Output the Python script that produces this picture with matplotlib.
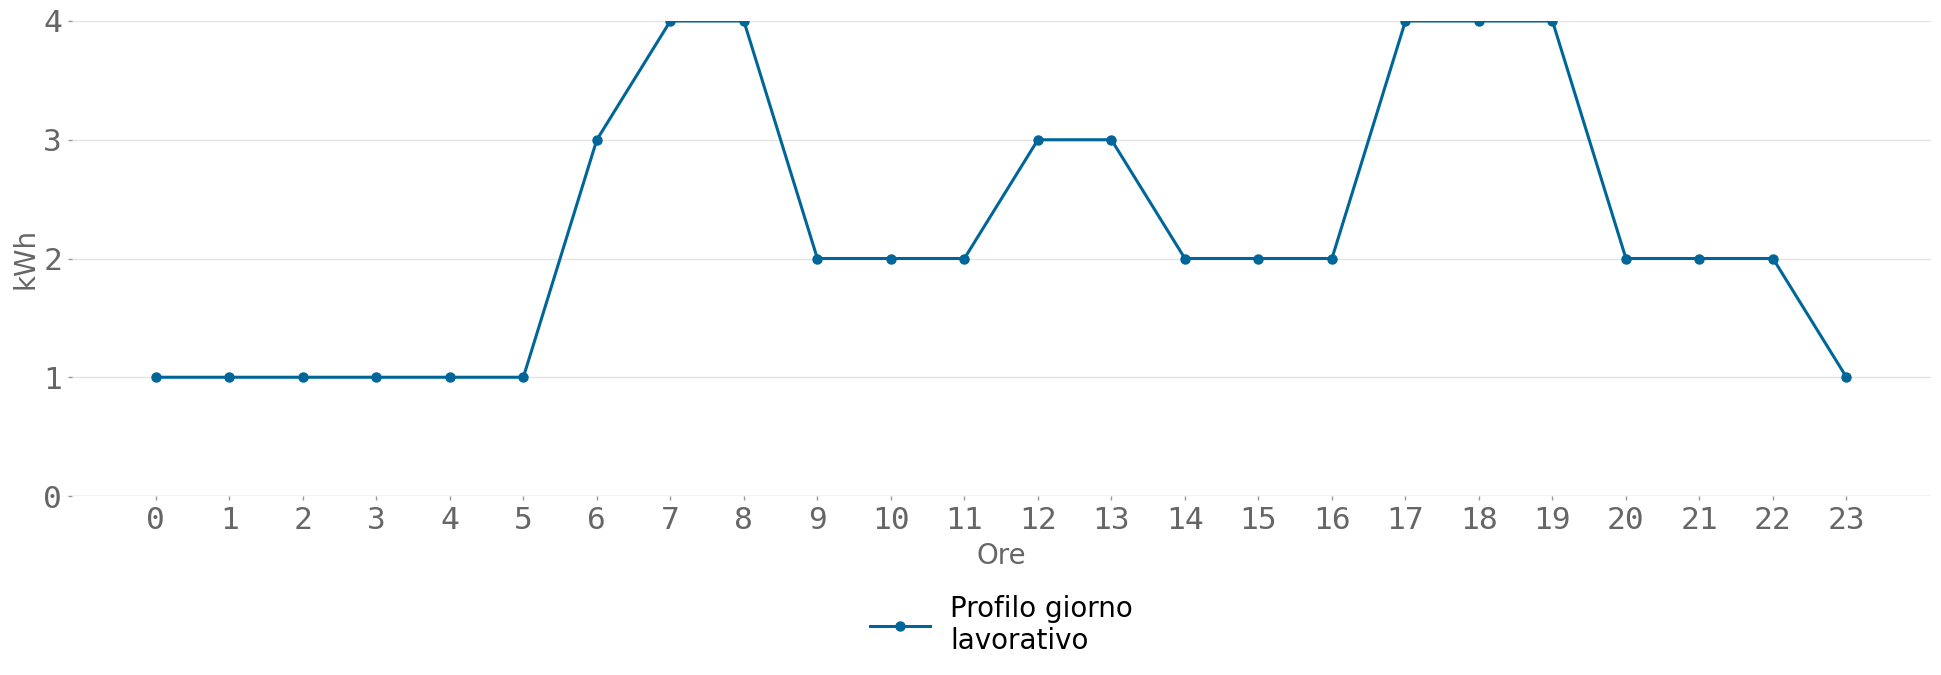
import matplotlib
matplotlib.use("Agg")
import matplotlib.pyplot as plt

hours = list(range(24))
kwh = [1, 1, 1, 1, 1, 1, 3, 4, 4, 2, 2, 2, 3, 3, 2, 2, 2, 4, 4, 4, 2, 2, 2, 1]
series_label = "Profilo giorno\nlavorativo"

fig = plt.figure(figsize=(19.41, 6.75), dpi=100)
ax = fig.add_axes([0.0371, 1 - 496 / 675, (1931 - 72) / 1941, (496 - 21) / 675])

color = "#006699"
ax.plot(hours, kwh, color=color, lw=2.2, marker="o", markersize=6.5, label=series_label)

ax.set_xlim(-1.14, 24.15)
ax.set_ylim(0, 4)
ax.set_xticks(hours)
ax.set_yticks([0, 1, 2, 3, 4])
for s in ax.spines.values():
    s.set_visible(False)
ax.grid(axis="y", color="#e3e3e3", lw=1)
ax.axhline(0, color="#d9d9d9", lw=1, zorder=0.5)
ax.set_axisbelow(True)
ax.tick_params(axis="both", colors="#999999", labelcolor="#666666", length=3, width=1,
               labelsize=22.5, pad=4)
for lab in ax.get_xticklabels() + ax.get_yticklabels():
    lab.set_family("DejaVu Sans Mono")
ax.set_xlabel("Ore", fontsize=20, color="#666666", labelpad=5)
ax.set_ylabel("kWh", fontsize=20, color="#666666", labelpad=3)

leg = ax.legend(loc="center", bbox_to_anchor=(0.5, -0.2716), frameon=False,
                fontsize=20, handlelength=2.15, handletextpad=0.75)

fig.savefig("out.png", dpi=100)
